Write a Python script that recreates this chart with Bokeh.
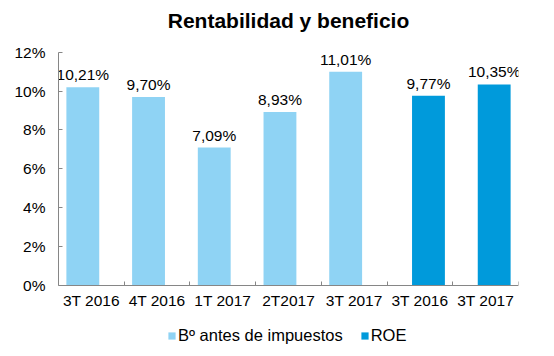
from bokeh.plotting import figure
from bokeh.models import (ColumnDataSource, FixedTicker, Range1d, Legend, LegendItem, Label)
from bokeh.core.properties import value
from bokeh.embed import file_html
from bokeh.resources import INLINE

# ---- data ----
title_text = "Rentabilidad y beneficio"
categories = ["3T 2016", "4T 2016", "1T 2017", "2T2017", "3T 2017", "3T 2016", "3T 2017"]
bai_values = [10.21, 9.70, 7.09, 8.93, 11.01]          # Bº antes de impuestos (first 5 categories)
roe_values = [9.77, 10.35]                             # ROE (last 2 categories)
y_ticks = [0, 2, 4, 6, 8, 10, 12]
y_tick_labels = ["0%", "2%", "4%", "6%", "8%", "10%", "12%"]

LIGHT = "#8FD3F4"
DARK = "#009ADB"
FONT = "Liberation Sans"
DODGE = 0.13
BAR_W = 0.5
Y_MIN = -3.12   # room below the 0% line for category labels and legend
Y_MAX = 14.68   # room above 12% for the title

n = len(categories)
bai_x = [i + 0.5 - DODGE for i in range(len(bai_values))]
roe_x = [len(bai_values) + i + 0.5 + DODGE for i in range(len(roe_values))]

def fmt(v):
    return f"{v:.2f}".replace(".", ",") + "%"

src_bai = ColumnDataSource(dict(x=bai_x, top=bai_values, label=[fmt(v) for v in bai_values]))
src_roe = ColumnDataSource(dict(x=roe_x, top=roe_values, label=[fmt(v) for v in roe_values]))

H = 345
p = figure(width=538, height=H, output_backend="svg", toolbar_location=None,
           x_range=Range1d(0, n), y_range=Range1d(Y_MIN, Y_MAX),
           min_border_left=58, min_border_right=20, min_border_top=0, min_border_bottom=0)
p.outline_line_color = None
p.xgrid.visible = False
p.ygrid.visible = False

p.add_layout(Label(x=n / 2, y=H - 20, y_units="screen", text=title_text,
                   text_align="center", text_baseline="middle", text_font=FONT,
                   text_font_size="21px", text_font_style="bold", text_color="#000000"))

r1 = p.vbar(x="x", top="top", width=BAR_W, source=src_bai, fill_color=LIGHT, line_color=None)
r2 = p.vbar(x="x", top="top", width=BAR_W, source=src_roe, fill_color=DARK, line_color=None)

for src in (src_bai, src_roe):
    p.text(x="x", y="top", text="label", source=src, text_align="center",
           text_baseline="bottom", y_offset=-4, text_font=value(FONT),
           text_font_size="15.5px", text_color="#000000")

# y axis
ya = p.yaxis[0]
ya.ticker = FixedTicker(ticks=y_ticks)
ya.bounds = (0, 12)
ya.major_label_overrides = {t: l for t, l in zip(y_ticks, y_tick_labels)}
ya.axis_line_color = "#868686"
ya.major_tick_line_color = "#868686"
ya.major_tick_in = 4
ya.major_tick_out = 0
ya.minor_tick_line_color = None
ya.major_label_standoff = 13
ya.major_label_text_font = FONT
ya.major_label_text_font_size = "15.5px"
ya.major_label_text_color = "#000000"

# x axis: labels at slot centers, tick marks at slot boundaries, drawn on the 0% line
xa = p.xaxis[0]
centers = [i + 0.5 for i in range(n)]
xa.fixed_location = 0
xa.ticker = FixedTicker(ticks=centers, minor_ticks=list(range(n + 1)))
xa.major_label_overrides = {c: lab for c, lab in zip(centers, categories)}
xa.axis_line_color = "#868686"
xa.major_tick_line_color = None
xa.major_tick_in = 0
xa.major_tick_out = 0
xa.minor_tick_line_color = "#868686"
xa.minor_tick_in = 4
xa.minor_tick_out = 0
xa.major_label_standoff = 7
xa.major_label_text_font = FONT
xa.major_label_text_font_size = "15.5px"
xa.major_label_text_color = "#000000"

legend = Legend(items=[LegendItem(label="Bº antes de impuestos", renderers=[r1]),
                       LegendItem(label="ROE", renderers=[r2])],
                orientation="horizontal", location=(109, 0),
                label_text_font=FONT, label_text_font_size="16.5px", label_text_color="#000000",
                glyph_width=9, glyph_height=9, label_standoff=2, spacing=17,
                padding=0, margin=0, border_line_color=None, background_fill_color=None,
                background_fill_alpha=0)
p.add_layout(legend, "center")

open("out.html", "w").write(file_html(p, INLINE))
